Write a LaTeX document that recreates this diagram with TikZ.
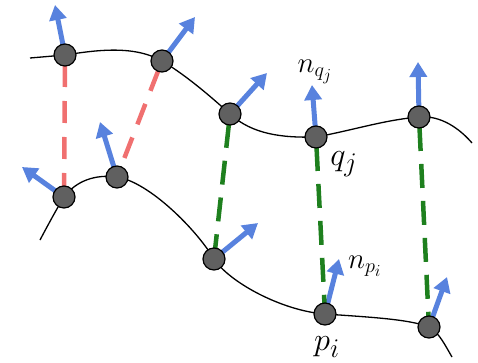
\documentclass[tikz,border=0pt]{standalone}
\usetikzlibrary{arrows.meta,backgrounds}
\definecolor{nblue}{RGB}{88,130,222}
\definecolor{dred}{RGB}{240,112,112}
\definecolor{dgreen}{RGB}{30,128,30}
\definecolor{dotgray}{RGB}{96,96,96}
\tikzset{
  pt/.style={circle,draw=black,line width=1.2pt,fill=dotgray,minimum size=22pt,inner sep=0pt},
  curve/.style={draw=black,line width=1.3pt},
  normal/.style={draw=nblue,line width=5pt,-{Triangle[width=17pt,length=15pt]}},
  redmatch/.style={draw=dred,line width=4.5pt,dash pattern=on 22pt off 14pt,dash phase=-10pt},
  greenmatch/.style={draw=dgreen,line width=4.5pt,dash pattern=on 24pt off 13pt,dash phase=-10pt},
  lbl/.style={inner sep=0pt}
}
\begin{document}
\begin{tikzpicture}[x=1pt,y=-1pt]
\useasboundingbox (0,0) rectangle (478,363);
% points on top curve (q)
\coordinate (ta) at (30,58);
\coordinate (tz) at (472,143);
\node[pt] (a1) at (65,55) {};
\node[pt] (a2) at (162,61) {};
\node[pt] (a3) at (230,114) {};
\node[pt] (a4) at (316,137) {};
\node[pt] (a5) at (419,117) {};
% points on bottom curve (p)
\coordinate (ba) at (40,240);
\coordinate (bz) at (452,357);
\node[pt] (b1) at (64,197) {};
\node[pt] (b2) at (117,177) {};
\node[pt] (b3) at (214,259) {};
\node[pt] (b4) at (325,314) {};
\node[pt] (b5) at (429,327) {};
% normal tips
\coordinate (na1) at (55,5);
\coordinate (na2) at (195,17);
\coordinate (na3) at (267,73);
\coordinate (na4) at (312,85);
\coordinate (na5) at (418,62);
\coordinate (nb1) at (22,167);
\coordinate (nb2) at (100,122);
\coordinate (nb3) at (258,223);
\coordinate (nb4) at (339,259);
\coordinate (nb5) at (447,277);
\begin{scope}[on background layer]
\draw[curve] (ta) .. controls +(12,-1) and +(-12,1) .. (a1.center)
  .. controls +(32,-5) and +(-28,-16) .. (a2.center)
  .. controls +(22,13) and +(-22,-20) .. (a3.center)
  .. controls +(22,20) and +(-35,1) .. (a4.center)
  .. controls +(38,-7) and +(-35,3) .. (a5.center)
  .. controls +(22,-2) and +(-12,-14) .. (tz);
\draw[curve] (ba) .. controls +(8,-15) and +(-8,13) .. (b1.center)
  .. controls +(12,-16) and +(-22,-3) .. (b2.center)
  .. controls +(32,5) and +(-18,-30) .. (b3.center)
  .. controls +(16,24) and +(-42,-3) .. (b4.center)
  .. controls +(42,3) and +(-20,-8) .. (b5.center)
  .. controls +(10,5) and +(-6,-10) .. (bz);
\draw[redmatch] (a1.center) -- (b1.center);
\draw[redmatch] (a2.center) -- (b2.center);
\foreach \n in {a1,a2,a3,a4,a5,b1,b2,b3,b4,b5}{
  \draw[normal] (\n.center) -- (n\n);
}
\draw[greenmatch] (a3.center) -- (b3.center);
\draw[greenmatch] (a4.center) -- (b4.center);
\draw[greenmatch] (a5.center) -- (b5.center);
\end{scope}
\node[lbl,font=\huge] (lnq) at (315,72) {\scalebox{1.4}{$n_{q_j}$}};
\node[lbl,font=\Huge] (lq) at (344,164) {\scalebox{1.3}{$q_j$}};
\node[lbl,font=\huge] (lnp) at (365,266) {\scalebox{1.4}{$n_{p_i}$}};
\node[lbl,font=\Huge] (lp) at (327,347) {\scalebox{1.3}{$p_i$}};
\end{tikzpicture}
\end{document}
